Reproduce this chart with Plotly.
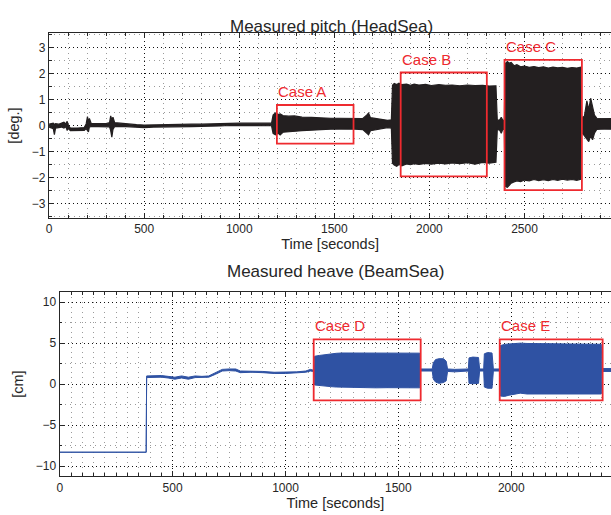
import plotly.graph_objects as go

# ---- Measured pitch, head sea: envelope of the oscillating record [deg.] ----
pitch_t = [0, 12, 22, 28, 34, 50, 65, 78, 88, 95, 102, 112, 150, 185, 195, 202, 207, 212, 222,
           260, 300, 318, 324, 330, 336, 345, 380, 420, 460, 500, 550, 600, 650, 700, 750, 800,
           850, 900, 950, 1000, 1100, 1170, 1178, 1190, 1205, 1215, 1230, 1260, 1290, 1330,
           1380, 1430, 1480, 1530, 1590, 1610, 1650, 1670, 1680, 1690, 1730, 1780, 1800,
           1806, 1815, 1828, 1840, 1855, 1880, 1900, 1920, 1945, 1980, 2010, 2050, 2085, 2120,
           2160, 2200, 2240, 2280, 2315, 2350,
           2357, 2370, 2378, 2386, 2394,
           2398, 2410, 2420, 2430, 2445, 2460, 2480, 2500, 2525, 2550, 2575, 2600, 2625, 2650,
           2675, 2700, 2725, 2750, 2775, 2795,
           2800, 2815, 2828, 2838, 2848, 2858, 2868, 2880, 2920, 2955]
pitch_hi = [0.05, 0.06, 0.09, 0.04, 0.07, 0.05, 0.09, 0.13, 0.06, 0.16, 0.0, -0.10, -0.10, -0.08,
            0.06, 0.34, 0.12, 0.27, 0.07, 0.06, 0.07, 0.11, 0.37, 0.22, 0.32, 0.11, 0.08, 0.05,
            0.03, 0.02, 0.03, 0.03, 0.04, 0.04, 0.05, 0.05, 0.06, 0.06, 0.09, 0.09, 0.09, 0.09,
            0.40, 0.48, 0.42, 0.45, 0.38, 0.36, 0.37, 0.32, 0.31, 0.29, 0.28, 0.28, 0.27, 0.25,
            0.27, 0.40, 0.48, 0.30, 0.25, 0.20, 0.22,
            1.55, 1.62, 1.58, 1.63, 1.57, 1.59, 1.55, 1.59, 1.56, 1.58, 1.54, 1.57, 1.55, 1.56,
            1.53, 1.56, 1.54, 1.55, 1.52, 1.53,
            0.20, 0.22, 0.32, 0.20, 0.20,
            2.38, 2.46, 2.40, 2.43, 2.30, 2.34, 2.26, 2.29, 2.24, 2.27, 2.23, 2.26, 2.21, 2.25,
            2.22, 2.24, 2.20, 2.23, 2.21, 2.24,
            0.30, 0.35, 0.95, 0.60, 1.05, 0.70, 0.40, 0.28, 0.26, 0.27]
pitch_lo = [-0.06, -0.08, -0.12, -0.35, -0.10, -0.08, -0.06, -0.10, -0.05, -0.18, -0.12, -0.20,
            -0.20, -0.19, -0.12, -0.20, -0.25, -0.05, -0.04, -0.04, -0.03, -0.05, -0.20, -0.45,
            -0.15, -0.04, -0.03, -0.05, -0.08, -0.08, -0.06, -0.06, -0.05, -0.04, -0.04, -0.03,
            -0.03, -0.02, 0.0, 0.0, -0.01, -0.01, -0.30, -0.36, -0.30, -0.36, -0.26, -0.25,
            -0.23, -0.20, -0.18, -0.15, -0.14, -0.13, -0.12, -0.14, -0.16, -0.30, -0.36, -0.20,
            -0.14, -0.08, -0.10,
            -1.45, -1.52, -1.57, -1.50, -1.55, -1.48, -1.51, -1.47, -1.50, -1.46, -1.49, -1.45,
            -1.48, -1.44, -1.47, -1.43, -1.49, -1.42, -1.45, -1.41,
            -0.15, -0.18, -0.30, -0.15, -0.15,
            -2.35, -2.38, -2.30, -2.22, -2.17, -2.13, -2.16, -2.10, -2.13, -2.08, -2.12, -2.09,
            -2.12, -2.08, -2.11, -2.07, -2.10, -2.08, -2.11, -2.07,
            -0.25, -0.40, -0.50, -0.62, -0.40, -0.55, -0.30, -0.15, -0.13, -0.14]

# ---- Measured heave, beam sea: envelope of the record [cm] ----
heave_t = [0, 383, 385, 420, 450, 480, 510, 540, 570, 600, 630, 660, 690, 720, 750, 780, 800,
           850, 900, 950, 1000, 1050, 1090, 1110, 1125,
           1129, 1150, 1175, 1200, 1225, 1250, 1300, 1350, 1400, 1450, 1500, 1550, 1595,
           1598, 1650, 1655, 1665, 1680, 1700, 1712, 1718, 1750, 1790, 1810, 1813, 1830,
           1855, 1860, 1878, 1881, 1895, 1915, 1921, 1948,
           1952, 1970, 1990, 2015, 2040, 2070, 2100, 2150, 2200, 2250, 2300, 2350, 2399,
           2402, 2442]
heave_hi = [-8.3, -8.3, 1.0, 1.0, 1.05, 0.95, 0.85, 1.0, 0.85, 1.0, 0.95, 1.0, 1.4, 1.8, 1.85,
            1.85, 1.6, 1.6, 1.55, 1.45, 1.45, 1.5, 1.6, 1.8, 1.7,
            3.4, 3.5, 3.6, 3.72, 3.76, 3.8, 3.8, 3.78, 3.8, 3.77, 3.79, 3.78, 3.78,
            1.85, 1.85, 2.6, 3.0, 3.1, 3.1, 2.8, 1.85, 1.8, 1.8, 1.85, 3.2, 3.3,
            3.25, 1.85, 1.85, 3.7, 3.85, 3.8, 1.85, 1.85,
            4.7, 4.85, 4.9, 4.95, 5.0, 4.96, 4.97, 4.93, 4.92, 4.9, 4.88, 4.87, 4.86,
            1.9, 1.9]
heave_lo = [-8.3, -8.3, 0.8, 0.8, 0.85, 0.75, 0.6, 0.75, 0.6, 0.8, 0.8, 0.85, 1.2, 1.6, 1.65,
            1.6, 1.4, 1.45, 1.4, 1.3, 1.3, 1.35, 1.45, 1.6, 1.55,
            -0.1, -0.18, -0.25, -0.3, -0.35, -0.37, -0.42, -0.44, -0.45, -0.43, -0.46, -0.44,
            -0.45,
            1.6, 1.6, 0.6, 0.25, 0.1, 0.2, 0.4, 1.55, 1.5, 1.55, 1.6, 0.1, 0.05,
            0.1, 1.6, 1.6, -0.35, -0.5, -0.5, 1.6, 1.6,
            -1.45, -1.5, -1.35, -1.25, -1.1, -1.2, -1.2, -1.15, -1.18, -1.22, -1.2, -1.18, -1.2,
            1.55, 1.55]

# ---- Highlighted test cases: (label, t0, t1, low, high) ----
pitch_cases = ["Case A", "Case B", "Case C"]
pitch_case_t0 = [1198, 1849, 2395]
pitch_case_t1 = [1601, 2302, 2802]
pitch_case_lo = [-0.70, -1.96, -2.49]
pitch_case_hi = [0.79, 2.04, 2.53]

heave_cases = ["Case D", "Case E"]
heave_case_t0 = [1125, 1949]
heave_case_t1 = [1599, 2405]
heave_case_lo = [-1.99, -1.99]
heave_case_hi = [5.45, 5.45]

W, H = 611, 515
FONT = "Liberation Sans, Arial, sans-serif"
INK = "#262626"
PITCH_C = "#231f20"
HEAVE_C = "#2f52a3"
RED = "#ee2a2f"

fig = go.Figure()

# pitch envelope (upper edge, then lower edge filled up to it)
fig.add_trace(go.Scatter(x=pitch_t, y=pitch_hi, mode="lines", xaxis="x", yaxis="y",
                         line=dict(color=PITCH_C, width=1.2), hoverinfo="skip", showlegend=False))
fig.add_trace(go.Scatter(x=pitch_t, y=pitch_lo, mode="lines", xaxis="x", yaxis="y",
                         fill="tonexty", fillcolor=PITCH_C,
                         line=dict(color=PITCH_C, width=1.2), hoverinfo="skip", showlegend=False))

# heave envelope
fig.add_trace(go.Scatter(x=heave_t, y=heave_hi, mode="lines", xaxis="x2", yaxis="y2",
                         line=dict(color=HEAVE_C, width=1), hoverinfo="skip", showlegend=False))
fig.add_trace(go.Scatter(x=heave_t, y=heave_lo, mode="lines", xaxis="x2", yaxis="y2",
                         fill="tonexty", fillcolor=HEAVE_C,
                         line=dict(color=HEAVE_C, width=1), hoverinfo="skip", showlegend=False))

shapes, annotations = [], []


def add_cases(names, t0, t1, lo, hi, xr, yr):
    for n, a, b, c, d in zip(names, t0, t1, lo, hi):
        shapes.append(dict(type="rect", xref=xr, yref=yr, x0=a, x1=b, y0=c, y1=d,
                           line=dict(color=RED, width=1.8), layer="above"))
        annotations.append(dict(xref=xr, yref=yr, x=a, y=d, text=n, showarrow=False,
                                xanchor="left", yanchor="bottom", xshift=-1, yshift=3,
                                font=dict(family=FONT, size=15, color=RED)))


add_cases(pitch_cases, pitch_case_t0, pitch_case_t1, pitch_case_lo, pitch_case_hi, "x", "y")
add_cases(heave_cases, heave_case_t0, heave_case_t1, heave_case_lo, heave_case_hi, "x2", "y2")

# subplot titles
annotations.append(dict(xref="paper", yref="paper", x=330 / W, y=1 - 15 / H,
                        text="Measured pitch (HeadSea)", showarrow=False,
                        font=dict(family=FONT, size=17, color=INK)))
annotations.append(dict(xref="paper", yref="paper", x=334 / W, y=1 - 271 / H,
                        text="Measured heave (BeamSea)", showarrow=False,
                        font=dict(family=FONT, size=17, color=INK)))


def xaxis(domain, rng, dtick, minor, anchor):
    return dict(domain=domain, range=rng, anchor=anchor, dtick=dtick, tick0=0,
                ticks="inside", ticklen=5, tickcolor=INK, tickwidth=1,
                showline=True, linecolor=INK, linewidth=1.3, mirror="allticks",
                showgrid=True, gridcolor="#111111", gridwidth=1, griddash="1px,3px",
                zeroline=False, tickfont=dict(family=FONT, size=12, color=INK),
                minor=dict(dtick=minor, tick0=0, ticks="inside", ticklen=2.5, tickcolor=INK,
                           showgrid=True, gridcolor="#9a9a9a", gridwidth=1, griddash="1px,4px"),
                title=dict(text="Time [seconds]", standoff=1,
                           font=dict(family=FONT, size=14.5, color=INK)))


def yaxis(domain, rng, dtick, minor, anchor, label):
    return dict(domain=domain, range=rng, anchor=anchor, dtick=dtick, tick0=0,
                ticks="inside", ticklen=5, tickcolor=INK, tickwidth=1,
                showline=True, linecolor=INK, linewidth=1.3, mirror=False,
                showgrid=True, gridcolor="#111111", gridwidth=1, griddash="1px,3px",
                zeroline=False, tickfont=dict(family=FONT, size=12, color=INK),
                minor=dict(dtick=minor, tick0=0, ticks="inside", ticklen=2.5, tickcolor=INK,
                           showgrid=True, gridcolor="#9a9a9a", gridwidth=1, griddash="1px,4px"),
                title=dict(text=label, standoff=8,
                           font=dict(family=FONT, size=14.5, color=INK)))


fig.update_layout(
    width=W, height=H,
    margin=dict(l=0, r=0, t=0, b=0),
    paper_bgcolor="white", plot_bgcolor="white",
    xaxis=xaxis([46.3 / W, 1], [0, 2955], 500, 100, "y"),
    yaxis=yaxis([1 - 217.7 / H, 1 - 33.3 / H], [-3.55, 3.55], 1, 0.5, "x", "[deg.]"),
    xaxis2=xaxis([57 / W, 1], [0, 2442], 500, 50, "y2"),
    yaxis2=yaxis([1 - 476 / H, 1 - 292.3 / H], [-11.2, 11.2], 5, 2.5, "x2", "[cm]"),
    shapes=shapes, annotations=annotations,
)

fig.write_html("out.html")
